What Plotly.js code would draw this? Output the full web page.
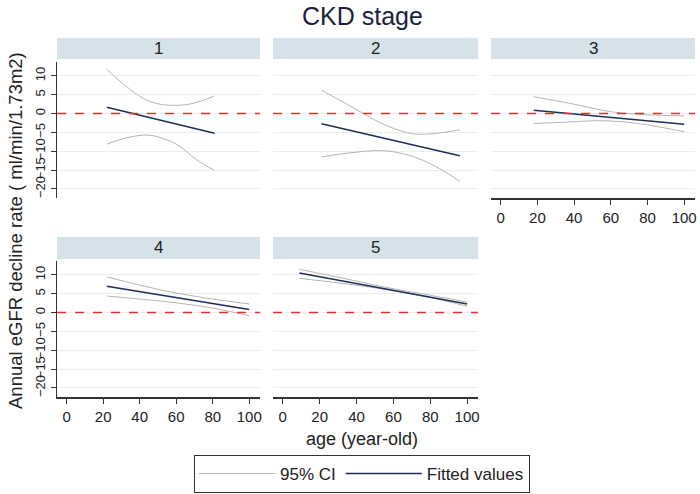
<!DOCTYPE html>
<html>
<head>
<meta charset="utf-8">
<script src="https://cdn.plot.ly/plotly-3.0.1.min.js"></script>
<style>
  html, body { margin: 0; padding: 0; background: #fff; }
  #plot { width: 700px; height: 494px; }
</style>
</head>
<body>
<div id="plot"></div>
<script>
// panel labels (CKD stage)
const stages = ['1', '2', '3', '4', '5'];
const yTicks = [-20, -15, -10, -5, 0, 5, 10];
const xTicks = [0, 20, 40, 60, 80, 100];
const zeroRef = 0;

// stage 1
const ageU1 = [22, 33, 42, 50, 58, 66, 74, 81];
const upper1 = [11.7, 7.1, 4.0, 2.6, 2.2, 2.4, 3.4, 4.7];
const ageL1 = [22, 33, 45, 55, 62, 71, 81];
const lower1 = [-8.1, -6.4, -5.7, -7.0, -8.7, -12.2, -15.1];
const ageF1 = [22, 81];
const fit1 = [1.7, -5.2];

// stage 2
const ageU2 = [21, 30, 42, 52, 60, 71, 84, 96];
const upper2 = [6.2, 3.8, 0.5, -2.2, -3.9, -5.4, -5.2, -4.3];
const ageL2 = [21, 35, 53, 63, 73, 85, 96];
const lower2 = [-11.5, -10.5, -9.8, -10.4, -11.8, -14.6, -18.0];
const ageF2 = [21, 96];
const fit2 = [-2.7, -11.2];

// stage 3
const ageU3 = [18, 40, 60, 80, 100];
const upper3 = [4.5, 2.5, 0.5, -0.3, -0.6];
const ageL3 = [18, 35, 50, 65, 80, 100];
const lower3 = [-2.6, -2.3, -1.9, -2.1, -3.0, -4.8];
const ageF3 = [18, 100];
const fit3 = [0.9, -2.8];

// stage 4
const ageU4 = [22, 40, 60, 80, 100];
const upper4 = [9.5, 7.3, 5.2, 3.6, 2.3];
const ageL4 = [22, 40, 60, 80, 100];
const lower4 = [4.4, 3.6, 2.6, 1.2, -0.8];
const ageF4 = [22, 100];
const fit4 = [7.0, 0.8];

// stage 5
const ageU5 = [9, 30, 55, 80, 100];
const upper5 = [11.5, 9.4, 6.8, 4.6, 2.8];
const ageL5 = [9, 30, 55, 80, 100];
const lower5 = [9.1, 7.9, 6.2, 4.0, 1.7];
const ageF5 = [9, 100];
const fit5 = [10.5, 2.3];

const panels = [
  {ageU: ageU1, up: upper1, ageL: ageL1, lo: lower1, ageF: ageF1, fit: fit1},
  {ageU: ageU2, up: upper2, ageL: ageL2, lo: lower2, ageF: ageF2, fit: fit2},
  {ageU: ageU3, up: upper3, ageL: ageL3, lo: lower3, ageF: ageF3, fit: fit3},
  {ageU: ageU4, up: upper4, ageL: ageL4, lo: lower4, ageF: ageF4, fit: fit4},
  {ageU: ageU5, up: upper5, ageL: ageL5, lo: lower5, ageF: ageF5, fit: fit5}
];

const W = 700, H = 494;
const ciColor = '#b5b5b5';
const fitColor = '#1f2d5a';
const stripColor = '#d6e2e9';
const font = 'Liberation Sans, Arial, sans-serif';

// panel boxes in pixels: [left, right, top, bottom]
const cols = [[57, 260], [273, 478], [491, 695]];
const rows = [[62, 198], [261, 397]];
const stripRows = [[38, 59], [237, 259]];
const pos = [[0, 0], [0, 1], [0, 2], [1, 0], [1, 1]];

const traces = [];
const layout = {
  width: W, height: H,
  margin: {l: 0, r: 0, t: 0, b: 0},
  paper_bgcolor: '#fff', plot_bgcolor: '#fff',
  font: {family: font, color: '#222'},
  showlegend: true,
  legend: {
    orientation: 'h', x: 362 / W, xanchor: 'center', y: 1 - 455 / H, yanchor: 'top',
    bordercolor: '#333', borderwidth: 1, font: {size: 17, color: '#222'},
    itemwidth: 76
  },
  shapes: [], annotations: []
};

panels.forEach((p, i) => {
  const n = i === 0 ? '' : String(i + 1);
  const [r, c] = pos[i];
  const xa = 'x' + n, ya = 'y' + n;
  traces.push({x: p.ageU, y: p.up, xaxis: xa, yaxis: ya, type: 'scatter', mode: 'lines',
    line: {color: ciColor, width: 1, shape: 'spline'}, name: '95% CI', legendgroup: 'ci', showlegend: i === 0});
  traces.push({x: p.ageL, y: p.lo, xaxis: xa, yaxis: ya, type: 'scatter', mode: 'lines',
    line: {color: ciColor, width: 1, shape: 'spline'}, name: '95% CI', legendgroup: 'ci', showlegend: false});
  traces.push({x: p.ageF, y: p.fit, xaxis: xa, yaxis: ya, type: 'scatter', mode: 'lines',
    line: {color: fitColor, width: 1.5}, name: 'Fitted values', legendgroup: 'fit', showlegend: i === 0});

  const leftCol = c === 0;
  const bottom = r === 1 || i === 2;
  layout['xaxis' + n] = {
    domain: [cols[c][0] / W, cols[c][1] / W], anchor: ya,
    range: [-5.3, 105.9], tickvals: xTicks, showgrid: false, zeroline: false,
    showline: bottom, linecolor: '#333', linewidth: 1.5,
    ticks: bottom ? 'outside' : '', ticklen: 5, tickcolor: '#333',
    showticklabels: bottom, tickfont: {size: 15, color: '#222'}
  };
  layout['yaxis' + n] = {
    domain: [1 - rows[r][1] / H, 1 - rows[r][0] / H], anchor: xa,
    range: [-22.4, 13.7], tickvals: yTicks, showgrid: true, gridcolor: '#e8eef1', gridwidth: 1,
    zeroline: false, showline: leftCol, linecolor: '#333', linewidth: 1.5,
    ticks: leftCol ? 'outside' : '', ticklen: 5, tickcolor: '#333',
    showticklabels: leftCol, tickangle: -90, tickfont: {size: 13, color: '#222'}
  };
  // reference line at zero
  layout.shapes.push({type: 'line', xref: xa + ' domain', yref: ya, x0: 0, x1: 1, y0: zeroRef, y1: zeroRef,
    line: {color: '#e0312a', width: 1.5, dash: 'dash'}, layer: 'above'});
  // strip header
  layout.shapes.push({type: 'rect', xref: 'paper', yref: 'paper',
    x0: cols[c][0] / W, x1: cols[c][1] / W, y0: 1 - stripRows[r][1] / H, y1: 1 - stripRows[r][0] / H,
    fillcolor: stripColor, line: {width: 0}});
  layout.annotations.push({text: stages[i], xref: 'paper', yref: 'paper', showarrow: false,
    x: (cols[c][0] + cols[c][1]) / 2 / W, y: 1 - (stripRows[r][0] + stripRows[r][1]) / 2 / H,
    xanchor: 'center', yanchor: 'middle', font: {size: 17, color: '#222'}});
});

layout.annotations.push({text: 'CKD stage', xref: 'paper', yref: 'paper', showarrow: false,
  x: 362 / W, y: 1 - 16 / H, xanchor: 'center', yanchor: 'middle', font: {size: 25, color: '#1a1f3d'}});
layout.annotations.push({text: 'age (year-old)', xref: 'paper', yref: 'paper', showarrow: false,
  x: 362 / W, y: 1 - 439 / H, xanchor: 'center', yanchor: 'middle', font: {size: 18, color: '#222'}});
layout.annotations.push({text: 'Annual eGFR decline rate ( ml/min/1.73m2)', xref: 'paper', yref: 'paper', showarrow: false,
  x: 15 / W, y: 1 - 231 / H, xanchor: 'center', yanchor: 'middle', textangle: -90, font: {size: 18.5, color: '#222'}});

Plotly.newPlot('plot', traces, layout, {displayModeBar: false, staticPlot: true});
</script>
</body>
</html>
